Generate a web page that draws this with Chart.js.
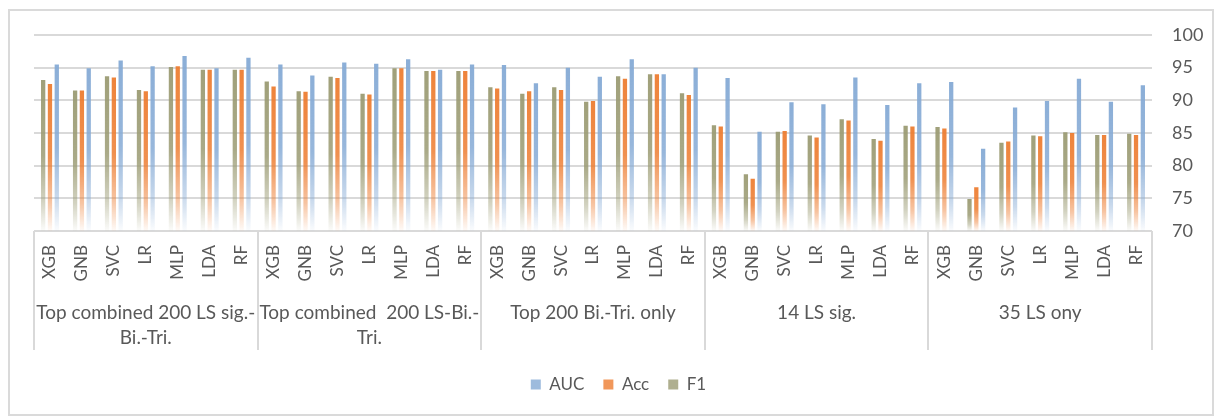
<!DOCTYPE html>
<html>
<head>
<meta charset="utf-8">
<title>Classifier scores by feature set</title>
<script src="https://cdn.jsdelivr.net/npm/chart.js@4.4.1/dist/chart.umd.min.js"></script>
<style>
  html, body { margin: 0; padding: 0; background: #ffffff; }
  #frame {
    position: absolute; left: 8px; top: 9px;
    width: 1202px; height: 403px;
    border: 2px solid #dadada;
  }
  #chart { display: block; }
</style>
</head>
<body>
<div id="frame"><canvas id="chart" width="1202" height="403"></canvas></div>
<script>
// Classifiers evaluated within every feature set
const models = ['XGB', 'GNB', 'SVC', 'LR', 'MLP', 'LDA', 'RF'];

// Feature sets (two-line names are split across lines)
const featureSets = [
  ['Top combined 200 LS sig.-', 'Bi.-Tri.'],
  ['Top combined  200 LS-Bi.-', 'Tri.'],
  'Top 200 Bi.-Tri. only',
  '14 LS sig.',
  '35 LS ony'
];

// Scores (%), one value per classifier, feature sets in order
const f1 = [
  93.1, 91.5, 93.7, 91.6, 95.1, 94.7, 94.7,
  92.9, 91.4, 93.6, 91.0, 94.9, 94.5, 94.5,
  92.0, 91.0, 92.0, 89.8, 93.7, 94.0, 91.1,
  86.2, 78.7, 85.2, 84.6, 87.1, 84.1, 86.1,
  85.9, 74.9, 83.5, 84.6, 85.1, 84.7, 84.9
];
const acc = [
  92.5, 91.5, 93.5, 91.4, 95.2, 94.7, 94.7,
  92.1, 91.3, 93.4, 90.9, 94.9, 94.5, 94.5,
  91.8, 91.4, 91.6, 89.9, 93.3, 94.0, 90.8,
  86.0, 78.0, 85.3, 84.3, 86.9, 83.8, 86.0,
  85.7, 76.7, 83.7, 84.5, 85.0, 84.7, 84.7
];
const auc = [
  95.5, 94.9, 96.1, 95.2, 96.8, 94.9, 96.5,
  95.5, 93.8, 95.8, 95.6, 96.3, 94.7, 95.5,
  95.4, 92.6, 95.0, 93.6, 96.3, 94.0, 95.0,
  93.4, 85.2, 89.7, 89.4, 93.5, 89.3, 92.6,
  92.8, 82.6, 88.9, 89.9, 93.3, 89.8, 92.3
];

const yMin = 70, yMax = 100, yStep = 5;
const textColor = '#595959';
const lineColor = '#d9d9d9';

// Series colours as r,g,b triplets: F1, Acc, AUC
const seriesRgb = ['155,155,115', '237,125,49', '133,170,213'];

const labels = featureSets.flatMap(() => models);

// Vertical fade for each bar: solid at the top, washing out toward the baseline
function fadeFill(rgb) {
  return (ctx) => {
    const chart = ctx.chart;
    if (ctx.type !== 'data' || !chart.chartArea || !chart.scales.y) {
      return `rgb(${rgb})`;
    }
    const y = chart.scales.y;
    const top = y.getPixelForValue(ctx.raw);
    const base = y.getPixelForValue(yMin);
    if (!isFinite(top) || !isFinite(base) || base - top < 1) return `rgb(${rgb})`;
    const g = chart.ctx.createLinearGradient(0, top, 0, base);
    g.addColorStop(0, `rgba(${rgb},0.95)`);
    g.addColorStop(0.5, `rgba(${rgb},0.85)`);
    g.addColorStop(0.8, `rgba(${rgb},0.45)`);
    g.addColorStop(1, `rgba(${rgb},0.03)`);
    return g;
  };
}

// Box under the plot that frames the classifier and feature-set labels
const groupFrame = {
  id: 'groupFrame',
  afterDraw(chart) {
    const x = chart.scales.x;
    const area = chart.chartArea;
    const ctx = chart.ctx;
    const per = models.length;
    ctx.save();
    ctx.strokeStyle = lineColor;
    ctx.lineWidth = 2;
    ctx.beginPath();
    for (let i = 0; i <= featureSets.length; i++) {
      const px = Math.round(x.getPixelForValue(i * per - 0.5));
      ctx.moveTo(px, area.bottom);
      ctx.lineTo(px, area.bottom + 119);
    }
    ctx.stroke();
    ctx.restore();
  }
};

function draw() {
  Chart.defaults.font.family = 'Lato, "Open Sans", sans-serif';
  Chart.defaults.color = textColor;

  new Chart(document.getElementById('chart'), {
    type: 'bar',
    data: {
      labels: labels,
      datasets: [
        { label: 'F1',  data: f1,  backgroundColor: fadeFill(seriesRgb[0]), borderWidth: 0 },
        { label: 'Acc', data: acc, backgroundColor: fadeFill(seriesRgb[1]), borderWidth: 0 },
        { label: 'AUC', data: auc, backgroundColor: fadeFill(seriesRgb[2]), borderWidth: 0 }
      ]
    },
    options: {
      responsive: false,
      animation: false,
      events: [],
      categoryPercentage: 0.64,
      barPercentage: 0.63,
      layout: { padding: { top: 24, left: 24, right: 9, bottom: 11 } },
      scales: {
        x: {
          position: 'bottom',
          grid: { display: false },
          border: { display: false },
          ticks: {
            autoSkip: false, minRotation: 90, maxRotation: 90,
            padding: 6,
            font: { size: 17 }, color: textColor
          },
          afterFit(scale) { scale.height = 70; }
        },
        g: {
          type: 'category',
          labels: featureSets,
          position: 'bottom',
          offset: true,
          grid: { display: false },
          border: { display: false },
          ticks: {
            autoSkip: false, minRotation: 0, maxRotation: 0,
            padding: -9,
            font: { size: 19, lineHeight: 1.32 }, color: textColor
          },
          afterFit(scale) { scale.height = 56; }
        },
        y: {
          position: 'right',
          min: yMin, max: yMax,
          grid: { color: lineColor, lineWidth: 2, drawTicks: false },
          border: { display: false },
          ticks: {
            stepSize: yStep, padding: 20,
            font: { size: 18 }, color: textColor
          },
          afterFit(scale) {
            scale.width = 51;
            scale.paddingTop = 10;
            scale.paddingBottom = 10;
          }
        }
      },
      plugins: {
        legend: {
          position: 'bottom',
          reverse: true,
          labels: {
            boxWidth: 10, boxHeight: 10, padding: 19,
            font: { size: 17 }, color: textColor,
            generateLabels(chart) {
              const items = Chart.defaults.plugins.legend.labels.generateLabels(chart);
              items.forEach((it) => {
                it.fillStyle = `rgba(${seriesRgb[it.datasetIndex]},0.8)`;
                it.strokeStyle = 'rgba(0,0,0,0)';
                it.lineWidth = 0;
              });
              return items;
            }
          }
        },
        tooltip: { enabled: false }
      }
    },
    plugins: [groupFrame]
  });
}

if (document.fonts && document.fonts.load) {
  document.fonts.load('17px Lato').then(draw, draw);
} else {
  draw();
}
</script>
</body>
</html>
